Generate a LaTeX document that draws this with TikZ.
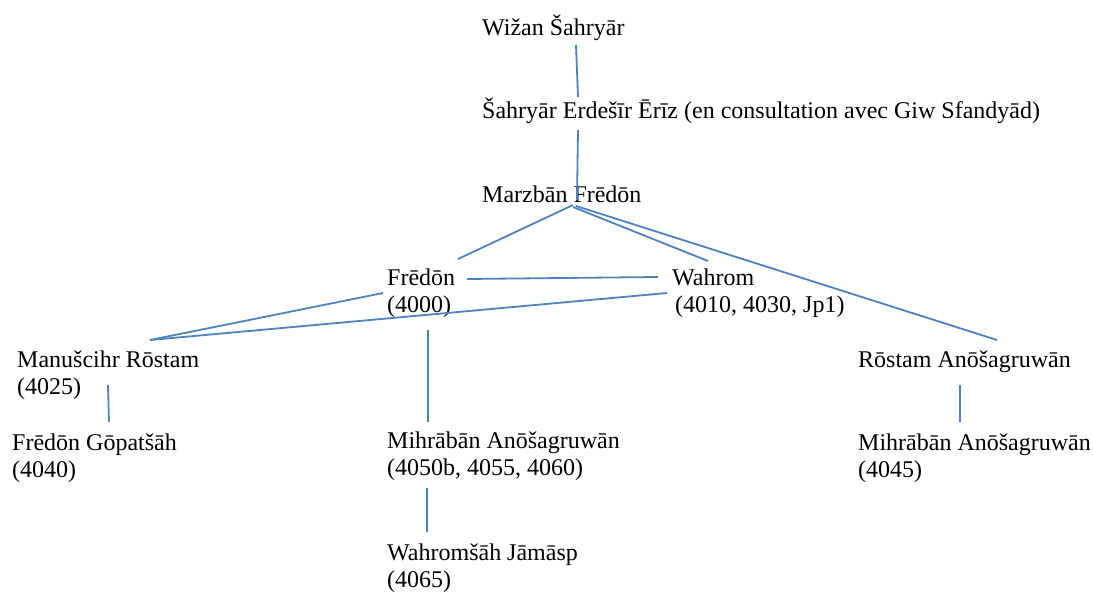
\documentclass[tikz,border=0pt]{standalone}
\usepackage{fontspec}
\setmainfont{Liberation Serif}
\usetikzlibrary{calc}
\definecolor{linkblue}{HTML}{4F81BD}

\begin{document}
\begin{tikzpicture}[x=1pt, y=-1pt,
    person/.style={anchor=base west, inner sep=0pt, align=left, font=\fontsize{24}{27}\selectfont},
    link/.style={linkblue, line width=1.8pt}]
    \useasboundingbox (0,0) rectangle (1093,592);
    \node[person] (wiz) at (482,35) {Wižan Šahryār};
    \node[person] (sha) at (482,118) {Šahryār Erdešīr Ērīz (en consultation avec Giw Sfandyād)};
    \node[person] (marz) at (482,202) {Marzbān Frēdōn};
    \node[person] (frd) at (387,312) {Frēdōn\\(4000)};
    \node[person] (wah) at (672,312) {Wahrom\\\hspace*{3pt}(4010, 4030, Jp1)};
    \node[person] (man) at (17,394) {Manušcihr Rōstam\\(4025)};
    \node[person] (rsa) at (858,367) {Rōstam Anōšagruwān};
    \node[person] (gop) at (12,477) {Frēdōn Gōpatšāh\\(4040)};
    \node[person] (mih) at (387,475) {Mihrābān Anōšagruwān\\(4050b, 4055, 4060)};
    \node[person] (mir) at (858,477) {Mihrābān Anōšagruwān\\(4045)};
    \node[person] (wjm) at (387,587) {Wahromšāh Jāmāsp\\(4065)};
    \coordinate (apex) at ($(marz.base west)+(91,3)$);
    \draw[link] ($(wiz.base west)+(94,10)$) -- ($(sha.base west)+(96,-21)$);
    \draw[link] ($(sha.base west)+(96,12)$) -- ($(marz.base west)+(95,-2)$);
    \draw[link] (apex) -- ($(frd.base west)+(71,-53)$);
    \draw[link] ($(apex)+(0,2)$) -- ($(wah.base west)+(36,-51)$);
    \draw[link] ($(apex)+(3,1)$) -- ($(rsa.base west)+(139,-27)$);
    \draw[link] ($(frd.base west)+(80,-33)$) -- ($(wah.base west)+(-14,-35)$);
    \draw[link] ($(frd.base west)+(-4,-19)$) -- ($(man.base west)+(133,-54)$);
    \draw[link] ($(wah.base west)+(-5,-19)$) -- ($(man.base west)+(133,-54)$);
    \draw[link] ($(frd.base west)+(41,18)$) -- ($(mih.base west)+(41,-53)$);
    \draw[link] ($(man.base west)+(91,-9)$) -- ($(gop.base west)+(97,-55)$);
    \draw[link] ($(mih.base west)+(40,13)$) -- ($(wjm.base west)+(40,-55)$);
    \draw[link] ($(rsa.base west)+(102,18)$) -- ($(mir.base west)+(102,-55)$);
\end{tikzpicture}
\end{document}
